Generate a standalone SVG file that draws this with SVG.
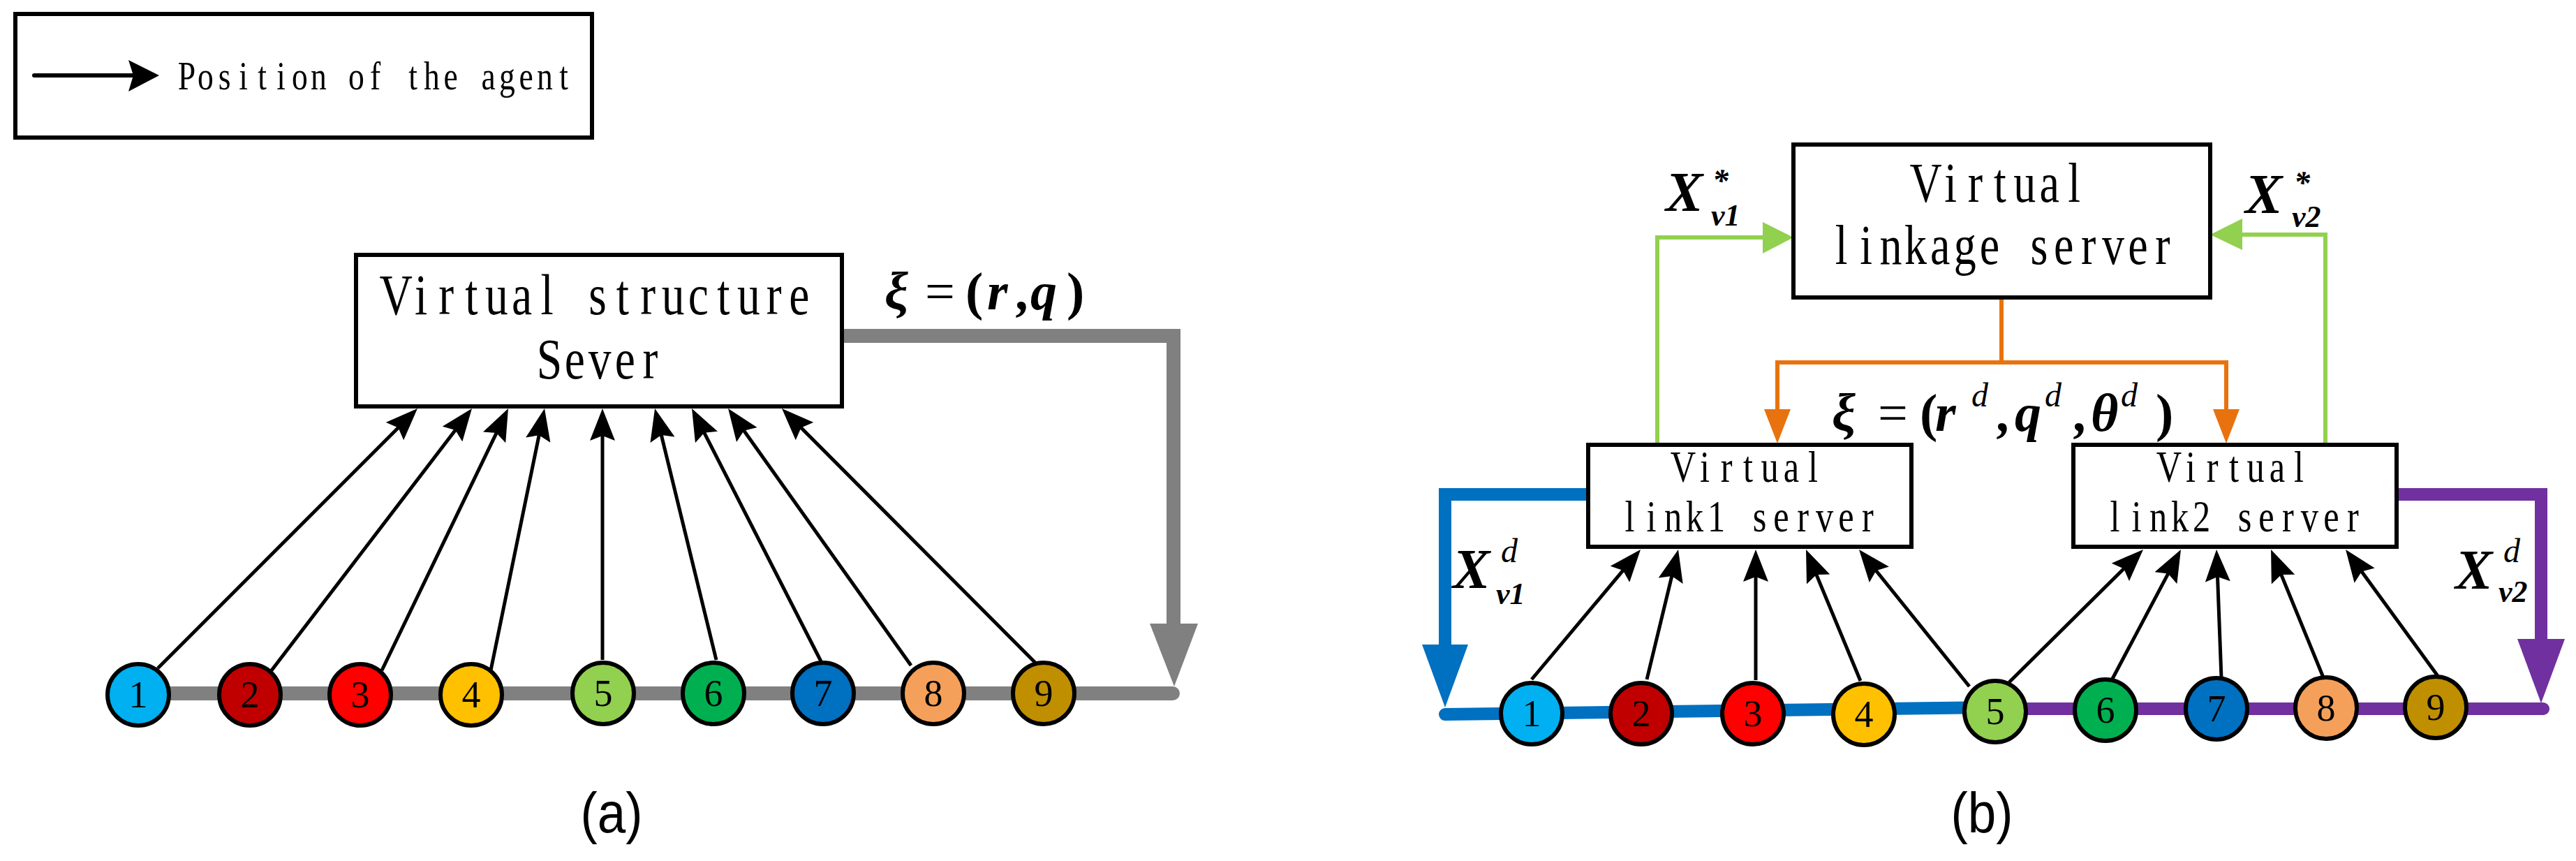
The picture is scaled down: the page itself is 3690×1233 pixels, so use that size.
<svg xmlns="http://www.w3.org/2000/svg" width="3690" height="1233" viewBox="0 0 3690 1233">
<style>
.box{fill:#fff;stroke:#000;stroke-width:6}
.lbl{font-family:"Liberation Serif","Times New Roman",serif;text-anchor:middle;fill:#000}
.num{font-family:"Liberation Serif","Times New Roman",serif;font-size:54px;text-anchor:middle;fill:#000}
.ag{stroke:#000;stroke-width:6}
.arr{stroke:#000;stroke-width:5;fill:none;marker-end:url(#ah)}
.math{font-family:"Liberation Serif","Times New Roman",serif;font-weight:bold;font-style:italic;fill:#000}
.up{font-style:normal}
.thin{font-weight:normal}
.cap{font-family:"Liberation Sans",Arial,sans-serif;font-size:82px;text-anchor:middle;fill:#000}
</style>
<defs>
<marker id="ah" markerUnits="userSpaceOnUse" markerWidth="48" markerHeight="36" refX="34" refY="18" orient="auto">
<path d="M0,0 L46,18 L0,36 L7,18 Z" fill="#000"/>
</marker>
</defs>
<rect width="3690" height="1233" fill="#fff"/>

<g id="legend">
<rect x="22" y="20" width="826" height="177" fill="#fff" stroke="#000" stroke-width="6"/>
<line x1="49" y1="108" x2="192" y2="108" stroke="#000" stroke-width="6" stroke-linecap="round"/>
<polygon points="184,86 228,108 184,131 191,108" fill="#000"/>
<g transform="translate(254,128) scale(0.8,1)"><text class="lbl" font-size="57" x="16.9 50.6 84.4 118.1 151.9 185.6 219.4 253.1 286.9 320.6 354.4 388.1 421.9 455.6 489.4 523.1 556.9 590.6 624.4 658.1 691.9" y="0">Position of the agent</text></g>
</g>

<g id="connectors">
<!-- panel a -->
<path d="M1206,481 H1681 V895" fill="none" stroke="#808080" stroke-width="20"/>
<polygon points="1647,893 1716,893 1682,983" fill="#808080"/>
<path d="M198,993 H1680" fill="none" stroke="#808080" stroke-width="20" stroke-linecap="round"/>
<line class="arr" x1="226" y1="957" x2="589.5" y2="593.5"/>
<line class="arr" x1="389" y1="960" x2="668.7" y2="594.5"/>
<line class="arr" x1="547" y1="960" x2="722.8" y2="595.8"/>
<line class="arr" x1="703" y1="960" x2="777.6" y2="596.8"/>
<line class="arr" x1="863" y1="945" x2="863" y2="597"/>
<line class="arr" x1="1026" y1="945" x2="940.9" y2="596.7"/>
<line class="arr" x1="1176" y1="947" x2="996.5" y2="595.7"/>
<line class="arr" x1="1305" y1="953" x2="1050" y2="594.8"/>
<line class="arr" x1="1484" y1="950" x2="1128.5" y2="593.5"/>
<!-- panel b -->
<path d="M2374,637 V340 H2527" fill="none" stroke="#92D050" stroke-width="6"/>
<polygon points="2525,318 2569,340 2525,363" fill="#92D050"/>
<path d="M3331,637 V336 H3210" fill="none" stroke="#92D050" stroke-width="6"/>
<polygon points="3212,313 3166,336 3212,358" fill="#92D050"/>
<path d="M2867,426 V519" fill="none" stroke="#E8730E" stroke-width="6"/>
<path d="M2546,588 V519 H3189 V588" fill="none" stroke="#E8730E" stroke-width="6"/>
<polygon points="2527,586 2565,586 2546,635" fill="#E8730E"/>
<polygon points="3170,586 3208,586 3189,635" fill="#E8730E"/>
<path d="M2275,708 H2070 V925" fill="none" stroke="#0070C0" stroke-width="18"/>
<polygon points="2037,923 2103,923 2070,1013" fill="#0070C0"/>
<path d="M2070,1023 L2858,1013" fill="none" stroke="#0070C0" stroke-width="18" stroke-linecap="round"/>
<path d="M3433,708 H3640 V917" fill="none" stroke="#7030A0" stroke-width="18"/>
<polygon points="3606,915 3674,915 3640,1007" fill="#7030A0"/>
<path d="M2858,1015 L3643,1015" fill="none" stroke="#7030A0" stroke-width="18" stroke-linecap="round"/>
<line class="arr" x1="2194" y1="973" x2="2342.3" y2="796.2"/>
<line class="arr" x1="2359" y1="973" x2="2401.2" y2="798.7"/>
<line class="arr" x1="2515" y1="974" x2="2515" y2="799"/>
<line class="arr" x1="2665" y1="975" x2="2591.6" y2="798.1"/>
<line class="arr" x1="2821" y1="983" x2="2670.5" y2="796.3"/>
<line class="arr" x1="2878" y1="977" x2="3061.5" y2="795.4"/>
<line class="arr" x1="3026" y1="972" x2="3118.4" y2="797.6"/>
<line class="arr" x1="3182" y1="971" x2="3175.5" y2="799"/>
<line class="arr" x1="3328" y1="970" x2="3257.6" y2="798.1"/>
<line class="arr" x1="3492" y1="968" x2="3367.1" y2="796.7"/>
</g>

<g id="vs-server">
<rect class="box" x="510" y="365" width="696" height="217"/>
<g transform="scale(0.8,1)"><text class="lbl" font-size="82"><tspan x="708.9 754.0 799.1 844.1 889.4 934.5 979.5 1024.7 1069.9 1115.0 1160.1 1205.2 1250.4 1295.5 1340.6 1385.7 1430.9" y="450">Virtual structure</tspan><tspan x="983.9 1029.0 1074.1 1119.2 1164.4" y="542">Sever</tspan></text></g>
</g>

<g id="a-agent1"><circle class="ag" cx="198" cy="995" r="44" fill="#00B0F0"/><text class="num" x="198" y="1013">1</text></g>
<g id="a-agent2"><circle class="ag" cx="358" cy="995" r="44" fill="#C00000"/><text class="num" x="358" y="1013">2</text></g>
<g id="a-agent3"><circle class="ag" cx="516" cy="995" r="44" fill="#FF0000"/><text class="num" x="516" y="1013">3</text></g>
<g id="a-agent4"><circle class="ag" cx="675" cy="995" r="44" fill="#FFC000"/><text class="num" x="675" y="1013">4</text></g>
<g id="a-agent5"><circle class="ag" cx="864" cy="993" r="44" fill="#92D050"/><text class="num" x="864" y="1011">5</text></g>
<g id="a-agent6"><circle class="ag" cx="1022" cy="993" r="44" fill="#00B050"/><text class="num" x="1022" y="1011">6</text></g>
<g id="a-agent7"><circle class="ag" cx="1179" cy="993" r="44" fill="#0070C0"/><text class="num" x="1179" y="1011">7</text></g>
<g id="a-agent8"><circle class="ag" cx="1337" cy="993" r="44" fill="#F5A05A"/><text class="num" x="1337" y="1011">8</text></g>
<g id="a-agent9"><circle class="ag" cx="1495" cy="993" r="44" fill="#BF8F00"/><text class="num" x="1495" y="1011">9</text></g>

<g id="linkage-server">
<rect class="box" x="2569" y="207" width="597" height="219"/>
<g transform="scale(0.8,1)"><text class="lbl" font-size="80"><tspan x="3448.4 3492.7 3536.9 3581.2 3625.4 3669.7 3713.9" y="289">Virtual</tspan><tspan x="3297.1 3341.4 3385.6 3429.9 3474.1 3518.4 3562.6 3606.9 3651.1 3695.4 3739.6 3783.9 3828.1 3872.4" y="378">linkage server</tspan></text></g>
</g>

<g id="link1-server">
<rect class="box" x="2275" y="637" width="463" height="146"/>
<g transform="scale(0.8,1)"><text class="lbl" font-size="63"><tspan x="3013.8 3052.5 3091.3 3130.0 3168.8 3207.5 3246.3" y="690">Virtual</tspan><tspan x="2918.2 2956.9 2995.7 3034.4 3073.2 3111.9 3150.7 3189.4 3228.2 3266.9 3305.7 3344.4" y="761">link1 server</tspan></text></g>
</g>

<g id="link2-server">
<rect class="box" x="2970" y="637" width="463" height="146"/>
<g transform="scale(0.8,1)"><text class="lbl" font-size="63"><tspan x="3883.8 3922.5 3961.3 4000.0 4038.8 4077.5 4116.3" y="690">Virtual</tspan><tspan x="3786.9 3825.6 3864.4 3903.1 3941.9 3980.6 4019.4 4058.1 4096.9 4135.6 4174.4 4213.1" y="761">link2 server</tspan></text></g>
</g>

<g id="b-agent1"><circle class="ag" cx="2194" cy="1022" r="44" fill="#00B0F0"/><text class="num" x="2194" y="1040">1</text></g>
<g id="b-agent2"><circle class="ag" cx="2351" cy="1022" r="44" fill="#C00000"/><text class="num" x="2351" y="1040">2</text></g>
<g id="b-agent3"><circle class="ag" cx="2511" cy="1022" r="44" fill="#FF0000"/><text class="num" x="2511" y="1040">3</text></g>
<g id="b-agent4"><circle class="ag" cx="2670" cy="1023" r="44" fill="#FFC000"/><text class="num" x="2670" y="1041">4</text></g>
<g id="b-agent5"><circle class="ag" cx="2858" cy="1019" r="44" fill="#92D050"/><text class="num" x="2858" y="1037">5</text></g>
<g id="b-agent6"><circle class="ag" cx="3016" cy="1017" r="44" fill="#00B050"/><text class="num" x="3016" y="1035">6</text></g>
<g id="b-agent7"><circle class="ag" cx="3175" cy="1015" r="44" fill="#0070C0"/><text class="num" x="3175" y="1033">7</text></g>
<g id="b-agent8"><circle class="ag" cx="3332" cy="1014" r="44" fill="#F5A05A"/><text class="num" x="3332" y="1032">8</text></g>
<g id="b-agent9"><circle class="ag" cx="3489" cy="1013" r="44" fill="#BF8F00"/><text class="num" x="3489" y="1031">9</text></g>

<g id="labels">
<text class="math" font-size="76" y="443"><tspan x="1267">ξ</tspan><tspan class="up thin" x="1325">=</tspan><tspan class="up" x="1383">(</tspan><tspan x="1414">r</tspan><tspan x="1457">,</tspan><tspan x="1476">q</tspan><tspan class="up" x="1528">)</tspan></text>
<text class="math" font-size="76" y="617"><tspan x="2624">ξ</tspan><tspan class="up thin" x="2690">=</tspan><tspan class="up" x="2750">(</tspan><tspan x="2772">r</tspan><tspan x="2862">,</tspan><tspan x="2886">q</tspan><tspan x="2972">,</tspan><tspan x="2995">θ</tspan><tspan class="up" x="3088">)</tspan></text>
<text class="math thin" font-size="48" y="582"><tspan x="2824">d</tspan><tspan x="2929">d</tspan><tspan x="3038">d</tspan></text>
<text class="math" font-size="80" x="2386" y="302">X</text>
<text class="math" font-size="46" x="2453" y="274">*</text>
<text class="math" font-size="44" x="2451" y="323">v1</text>
<text class="math" font-size="80" x="3216" y="305">X</text>
<text class="math" font-size="46" x="3286" y="277">*</text>
<text class="math" font-size="44" x="3283" y="325">v2</text>
<text class="math" font-size="80" x="2081" y="842">X</text>
<text class="math thin" font-size="48" x="2150" y="805">d</text>
<text class="math" font-size="44" x="2143" y="865">v1</text>
<text class="math" font-size="80" x="3517" y="843">X</text>
<text class="math thin" font-size="48" x="3586" y="805">d</text>
<text class="math" font-size="44" x="3579" y="862">v2</text>
<text class="cap" x="876" y="1192" textLength="89" lengthAdjust="spacingAndGlyphs">(a)</text>
<text class="cap" x="2839" y="1192" textLength="89" lengthAdjust="spacingAndGlyphs">(b)</text>
</g>
</svg>
